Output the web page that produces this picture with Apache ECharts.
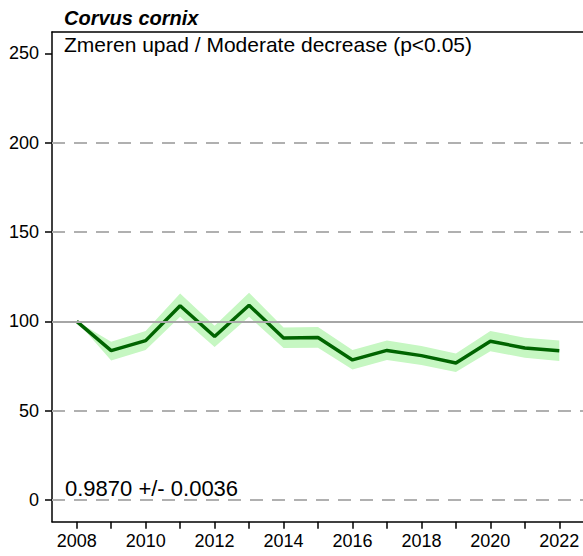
<!DOCTYPE html>
<html>
<head>
<meta charset="utf-8">
<script src="https://cdn.jsdelivr.net/npm/echarts@6/dist/echarts.min.js"></script>
<style>
html,body{margin:0;padding:0;background:#fff;}
#chart{width:583px;height:556px;}
</style>
</head>
<body>
<div id="chart"></div>
<script>
var years = [2008,2009,2010,2011,2012,2013,2014,2015,2016,2017,2018,2019,2020,2021,2022];
var indexValues = [100,83.6,89.2,108.7,91.5,109.0,90.7,90.9,78.4,83.7,80.8,76.7,88.8,85.1,83.5];
var upperValues = [100,88.6,94.6,115.5,97.5,116.0,96.6,96.8,84.0,89.2,86.2,82.0,94.6,90.8,89.2];
var lowerValues = [100,78.0,84.0,102.5,85.6,102.5,85.0,85.2,73.0,78.4,75.6,71.6,83.2,79.6,77.8];
var yTickValues = [0,50,100,150,200,250];
var xLabelValues = [2008,2010,2012,2014,2016,2018,2020,2022];
var titleText = 'Corvus cornix';
var subtitleText = 'Zmeren upad / Moderate decrease (p<0.05)';
var slopeText = '0.9870 +/- 0.0036';

var chart = echarts.init(document.getElementById('chart'), null, {renderer:'svg'});
var font = '"Liberation Sans", Arial, sans-serif';

var bandData = years.map(function(y,i){return [y, lowerValues[i], upperValues[i]];});
var lineData = years.map(function(y,i){return [y, indexValues[i]];});

function renderBand(params, api){
  if (params.dataIndex !== 0) return null;
  var pts = [];
  for (var i = 0; i < years.length; i++) pts.push(api.coord([years[i], upperValues[i]]));
  for (var j = years.length - 1; j >= 0; j--) pts.push(api.coord([years[j], lowerValues[j]]));
  return {type:'polygon', shape:{points:pts}, style:{fill:'#c6f7c2', stroke:'none'}};
}

chart.setOption({
  animation:false,
  backgroundColor:'#fff',
  grid:{left:52, top:32, width:560, height:489.7, outerBoundsMode:'none', containLabel:false, show:false},
  xAxis:[{
    type:'value', min:2007.283, max:2023.529, position:'bottom',
    axisLine:{show:true, onZero:false, lineStyle:{color:'#000', width:1.5}},
    axisTick:{show:true, length:7, lineStyle:{color:'#000', width:1.5}, customValues:years},
    axisLabel:{show:true, customValues:xLabelValues, color:'#000', fontFamily:font, fontSize:18, margin:10, hideOverlap:false, formatter:function(v){return String(v);}},
    splitLine:{show:false}
  },{
    type:'value', min:2007.283, max:2023.529, position:'top',
    axisLine:{show:true, onZero:false, lineStyle:{color:'#000', width:1.5}},
    axisTick:{show:false}, axisLabel:{show:false}, splitLine:{show:false}
  }],
  yAxis:{
    type:'value', min:-12.14, max:261.9,
    axisLine:{show:true, onZero:false, lineStyle:{color:'#000', width:1.5}},
    axisTick:{show:true, length:7, lineStyle:{color:'#000', width:1.5}, customValues:yTickValues},
    axisLabel:{show:true, customValues:yTickValues, color:'#000', fontFamily:font, fontSize:18, margin:13},
    splitLine:{show:false}
  },
  series:[
    {
      type:'custom', data:bandData, renderItem:renderBand, silent:true,
      encode:{x:0, y:[1,2]},
      z:2
    },
    {
      type:'line', data:lineData, symbol:'none', silent:true,
      lineStyle:{color:'#006400', width:3.5},
      markLine:{
        silent:true, symbol:'none', label:{show:false},
        data:[
          {yAxis:0, lineStyle:{type:[13,9], color:'#b0b0b0', width:2}},
          {yAxis:50, lineStyle:{type:[13,9], color:'#b0b0b0', width:2}},
          {yAxis:100, lineStyle:{type:'solid', color:'#a6a6a6', width:2}},
          {yAxis:150, lineStyle:{type:[13,9], color:'#b0b0b0', width:2}},
          {yAxis:200, lineStyle:{type:[13,9], color:'#b0b0b0', width:2}}
        ]
      },
      z:3
    }
  ],
  graphic:[
    {type:'text', left:64, top:8, style:{text:titleText, fill:'#000', font:'italic bold 20px "Liberation Sans", Arial, sans-serif'}},
    {type:'text', left:64, top:34, style:{text:subtitleText, fill:'#000', font:'21px "Liberation Sans", Arial, sans-serif'}},
    {type:'text', left:65, top:477, style:{text:slopeText, fill:'#000', font:'22px "Liberation Sans", Arial, sans-serif'}}
  ]
});
</script>
</body>
</html>
